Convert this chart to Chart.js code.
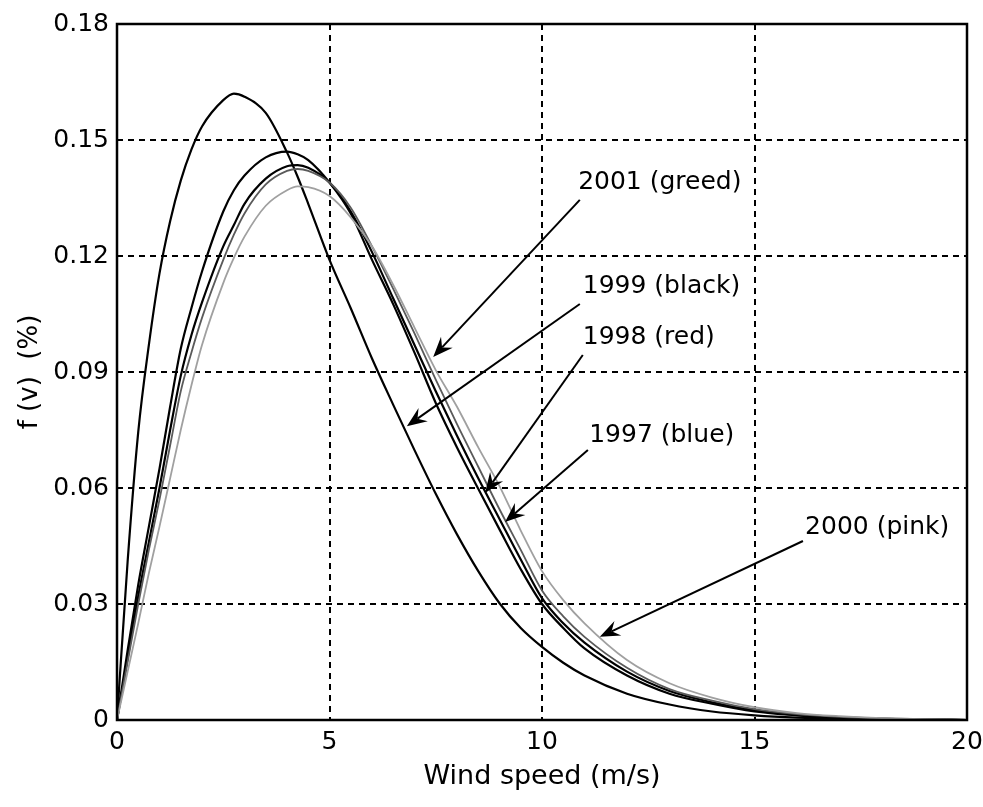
<!DOCTYPE html>
<html><head><meta charset="utf-8">
<script src="https://cdn.jsdelivr.net/npm/chart.js@4.4.1/dist/chart.umd.min.js"></script>
<style>html,body{margin:0;padding:0;background:#fff;}#wrap{width:983px;height:807px;position:relative;}</style>
</head><body><div id="wrap"><canvas id="c"></canvas></div>
<script>
// ---- data ----
const windSpeed = [0,0.25,0.5,0.75,1,1.25,1.5,1.75,2,2.5,2.75,3,3.5,4,4.25,4.5,5,5.5,6,6.5,7,7.5,8,8.5,9,9.5,10,10.5,11,12,13,14,15,16,17,18,19,20];
const series1999 = [0,0.041,0.0745,0.097,0.1155,0.129,0.1395,0.1475,0.1535,0.1603,0.162,0.1612,0.157,0.1468,0.1405,0.1335,0.119,0.1065,0.0935,0.0815,0.0698,0.0585,0.048,0.0385,0.0302,0.0238,0.0189,0.0148,0.0115,0.0068,0.0040,0.0022,0.0012,0.0006,0.0003,0.00015,0.00005,0];
const series1998 = [0,0.018,0.035,0.050,0.065,0.081,0.096,0.1065,0.116,0.1315,0.137,0.1408,0.1455,0.147,0.1463,0.1448,0.139,0.131,0.119,0.1075,0.095,0.082,0.0705,0.0598,0.0493,0.039,0.030,0.0238,0.0185,0.0115,0.0068,0.0042,0.0022,0.0012,0.0006,0.0003,0.0001,0];
const series1997 = [0,0.016,0.032,0.046,0.060,0.075,0.089,0.0995,0.108,0.1225,0.128,0.1335,0.140,0.1432,0.1435,0.1428,0.139,0.1315,0.121,0.109,0.097,0.085,0.0735,0.0625,0.052,0.0415,0.0315,0.0250,0.0200,0.0125,0.0075,0.0046,0.0025,0.0013,0.0007,0.0003,0.0001,0];
const series2001 = [0,0.015,0.030,0.044,0.057,0.071,0.085,0.095,0.104,0.119,0.1255,0.131,0.1385,0.142,0.1425,0.142,0.139,0.1325,0.1225,0.1115,0.100,0.088,0.0765,0.0655,0.0545,0.044,0.0335,0.0268,0.0215,0.0135,0.008,0.005,0.0028,0.0015,0.0008,0.0004,0.0002,0];
const series2000 = [0,0.0125,0.025,0.038,0.050,0.0625,0.075,0.0865,0.097,0.113,0.1195,0.125,0.133,0.137,0.138,0.1378,0.1355,0.130,0.1225,0.1125,0.1015,0.0905,0.081,0.0705,0.0605,0.049,0.0385,0.031,0.025,0.0155,0.0095,0.0058,0.0033,0.0018,0.001,0.0005,0.0002,0];
const xTickValues = [0,5,10,15,20];
const xTickLabels = ['0','5','10','15','20'];
const yTickValues = [0,0.03,0.06,0.09,0.12,0.15,0.18];
const yTickLabels = ['0','0.03','0.06','0.09','0.12','0.15','0.18'];
const labelTexts = ['2001 (greed)','1999 (black)','1998 (red)','1997 (blue)','2000 (pink)'];

// ---- annotation placement (data units) ----
const annotations = [
  {text:labelTexts[0], tx:10.85, ty:0.1389, from:[10.89,0.1345], to:[7.44,0.0939]},
  {text:labelTexts[1], tx:10.96, ty:0.1122, from:[10.89,0.1076], to:[6.82,0.0760]},
  {text:labelTexts[2], tx:10.96, ty:0.0988, from:[10.96,0.0944], to:[8.66,0.0587]},
  {text:labelTexts[3], tx:11.11, ty:0.0737, from:[11.08,0.0698], to:[9.13,0.0512]},
  {text:labelTexts[4], tx:16.19, ty:0.0499, from:[16.14,0.0463], to:[11.36,0.0215]}
];

const FONT = 'DejaVu Sans';
function pts(arr){ return windSpeed.map((v,i)=>({x:v,y:arr[i]})); }
function ds(label, arr, color, w){
  return {label, data:pts(arr), borderColor:color, borderWidth:w, pointRadius:0,
          fill:false, cubicInterpolationMode:'monotone', showLine:true};
}

const annotPlugin = {
  id:'annot',
  afterDatasetsDraw(chart){
    const {ctx, scales:{x,y}, chartArea:ca} = chart;
    ctx.save();
    ctx.strokeStyle = '#000'; ctx.lineWidth = 2.5; ctx.setLineDash([]);
    ctx.strokeRect(ca.left, ca.top, ca.right-ca.left, ca.bottom-ca.top);
    ctx.fillStyle = '#000';
    ctx.font = '25px "' + FONT + '"';
    ctx.textBaseline = 'middle'; ctx.textAlign = 'left';
    annotations.forEach(a=>{
      const x1 = x.getPixelForValue(a.from[0]), y1 = y.getPixelForValue(a.from[1]);
      const x2 = x.getPixelForValue(a.to[0]), y2 = y.getPixelForValue(a.to[1]);
      ctx.lineWidth = 2; ctx.strokeStyle = '#000';
      const ang = Math.atan2(y2-y1, x2-x1);
      const L = 20, W = 8, N = 13;
      const bx = x2 - Math.cos(ang)*N, by = y2 - Math.sin(ang)*N;
      ctx.beginPath(); ctx.moveTo(x1,y1); ctx.lineTo(bx,by); ctx.stroke();
      const px = -Math.sin(ang), py = Math.cos(ang);
      const hx = x2 - Math.cos(ang)*L, hy = y2 - Math.sin(ang)*L;
      ctx.beginPath();
      ctx.moveTo(x2,y2);
      ctx.lineTo(hx + px*W, hy + py*W);
      ctx.lineTo(bx, by);
      ctx.lineTo(hx - px*W, hy - py*W);
      ctx.closePath(); ctx.fill();
      ctx.fillText(a.text, x.getPixelForValue(a.tx), y.getPixelForValue(a.ty));
    });
    ctx.restore();
  }
};

new Chart(document.getElementById('c'), {
  type:'scatter',
  data:{datasets:[
    ds('2000 (pink)', series2000, '#a0a0a0', 1.8),
    ds('2001 (greed)', series2001, '#5a5a5a', 1.8),
    ds('1997 (blue)', series1997, '#000', 2.2),
    ds('1998 (red)', series1998, '#000', 2.2),
    ds('1999 (black)', series1999, '#000', 2.2)
  ]},
  options:{
    responsive:true, maintainAspectRatio:false, animation:false,
    layout:{padding:{top:24,right:16,left:0,bottom:0}},
    plugins:{legend:{display:false}, tooltip:{enabled:false}},
    scales:{
      x:{type:'linear', min:0, max:20,
        afterBuildTicks(s){ s.ticks = xTickValues.map(v=>({value:v})); },
        afterFit(s){ s.height = 87; s.paddingRight = 0; s.paddingLeft = 0; },
        ticks:{color:'#000', font:{family:FONT, size:25}, padding:7, maxRotation:0,
          callback:(v,i)=>xTickLabels[i]},
        grid:{color:'#000', lineWidth:2, drawTicks:false},
        border:{display:false, dash:[6,5]},
        title:{display:true, text:'Wind speed (m/s)', color:'#000', font:{family:FONT, size:27}, padding:{top:0,bottom:14}}
      },
      y:{type:'linear', min:0, max:0.18,
        afterBuildTicks(s){ s.ticks = yTickValues.map(v=>({value:v})); },
        afterFit(s){ s.width = 117; s.paddingTop = 0; s.paddingBottom = 0; },
        ticks:{color:'#000', font:{family:FONT, size:25}, padding:8,
          callback:(v,i)=>yTickLabels[i]},
        grid:{color:'#000', lineWidth:2, drawTicks:false},
        border:{display:false, dash:[6,5]},
        title:{display:true, text:'f (v)  (%)', color:'#000', font:{family:FONT, size:26}, padding:{top:15,bottom:0}}
      }
    }
  },
  plugins:[annotPlugin]
});
</script></body></html>
